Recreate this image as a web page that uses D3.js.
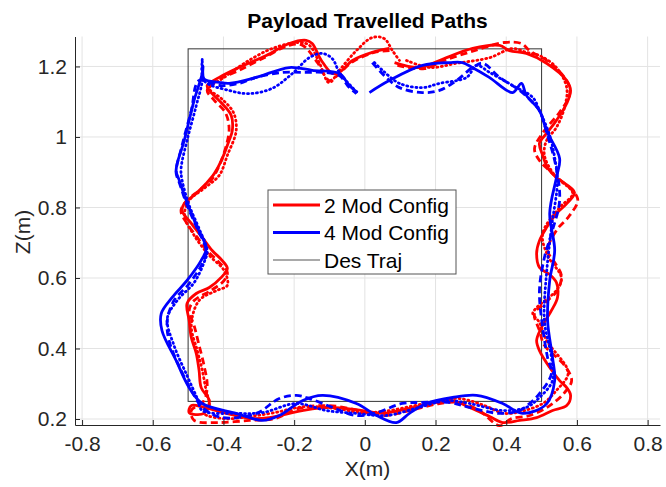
<!DOCTYPE html>
<html>
<head>
<meta charset="utf-8">
<script src="https://cdn.jsdelivr.net/npm/d3@7"></script>
<style>
  body { margin: 0; background: #fff; }
  text { font-family: "Liberation Sans", Arial, Helvetica, sans-serif; }
</style>
</head>
<body>
<div id="chart"></div>
<script>
// desired trajectory (square, metres)
var desX = [-0.5, 0.5];
var desZ = [0.25, 1.25];

// 2 module configuration runs [x, z]
var red2Solid = [
  [0.084,1.211],[0.154,1.197],[0.211,1.217],[0.305,1.251],[0.381,1.260],[0.409,1.245],[0.457,1.237],
  [0.514,1.209],[0.571,1.160],[0.582,1.132],[0.571,1.095],[0.542,1.047],[0.514,1.010],[0.494,0.982],
  [0.503,0.948],[0.517,0.913],[0.542,0.885],[0.593,0.843],[0.571,0.811],[0.542,0.783],[0.514,0.743],
  [0.494,0.706],[0.486,0.670],[0.494,0.630],[0.523,0.610],[0.542,0.587],[0.545,0.545],[0.528,0.508],
  [0.500,0.460],[0.486,0.423],[0.494,0.394],[0.523,0.346],[0.551,0.309],[0.571,0.289],[0.582,0.267],
  [0.571,0.238],[0.531,0.224],[0.486,0.204],[0.438,0.196],[0.390,0.190],[0.353,0.207],[0.296,0.233],
  [0.248,0.252],[0.203,0.247],[0.126,0.230],[0.050,0.216],[-0.007,0.224],[-0.101,0.233],[-0.177,0.224],
  [-0.270,0.204],[-0.319,0.201],[-0.392,0.216],[-0.455,0.233],[-0.491,0.238],[-0.497,0.218],[-0.455,0.216],
  [-0.440,0.252],[-0.463,0.289],[-0.469,0.338],[-0.477,0.386],[-0.491,0.431],[-0.497,0.479],[-0.503,0.528],
  [-0.477,0.556],[-0.440,0.573],[-0.407,0.601],[-0.389,0.627],[-0.404,0.650],[-0.432,0.678],[-0.460,0.715],
  [-0.491,0.755],[-0.517,0.791],[-0.511,0.811],[-0.477,0.840],[-0.449,0.868],[-0.426,0.896],[-0.406,0.933],
  [-0.384,0.990],[-0.375,1.018],[-0.378,1.061],[-0.404,1.095],[-0.440,1.132],[-0.446,1.146],[-0.412,1.169],
  [-0.356,1.197],[-0.279,1.231],[-0.214,1.265],[-0.166,1.274],[-0.149,1.265],[-0.123,1.217],[-0.092,1.180],
  [-0.072,1.183],[-0.035,1.217],[0.021,1.240],[0.069,1.251]
];
var red2Dashed = [
  [0.092,1.203],[0.169,1.194],[0.225,1.217],[0.310,1.245],[0.395,1.268],[0.443,1.265],[0.466,1.245],
  [0.523,1.211],[0.574,1.154],[0.579,1.118],[0.551,1.070],[0.508,1.018],[0.480,0.967],[0.494,0.933],
  [0.528,0.899],[0.602,0.825],[0.579,0.777],[0.542,0.735],[0.517,0.678],[0.537,0.644],[0.556,0.607],
  [0.545,0.565],[0.508,0.528],[0.480,0.499],[0.494,0.451],[0.508,0.409],[0.565,0.352],[0.585,0.309],
  [0.565,0.275],[0.523,0.238],[0.466,0.210],[0.415,0.201],[0.381,0.181],[0.324,0.224],[0.268,0.247],
  [0.211,0.244],[0.126,0.224],[0.055,0.210],[-0.016,0.224],[-0.101,0.238],[-0.186,0.230],[-0.256,0.201],
  [-0.327,0.196],[-0.412,0.190],[-0.483,0.196],[-0.491,0.224],[-0.455,0.252],[-0.446,0.295],[-0.455,0.352],
  [-0.469,0.409],[-0.483,0.465],[-0.497,0.508],[-0.483,0.536],[-0.435,0.565],[-0.398,0.593],[-0.389,0.616],
  [-0.412,0.644],[-0.446,0.678],[-0.474,0.715],[-0.505,0.757],[-0.520,0.791],[-0.503,0.820],[-0.469,0.848],
  [-0.435,0.877],[-0.412,0.919],[-0.392,0.976],[-0.384,1.024],[-0.395,1.070],[-0.426,1.104],[-0.446,1.132],
  [-0.418,1.160],[-0.356,1.189],[-0.285,1.225],[-0.214,1.260],[-0.177,1.260],[-0.134,1.211],[-0.101,1.160],
  [-0.078,1.174],[-0.038,1.211],[0.027,1.240],[0.075,1.245]
];
var red2Dotted = [
  [0.118,1.217],[0.183,1.197],[0.259,1.209],[0.353,1.225],[0.418,1.251],[0.457,1.240],[0.494,1.231],
  [0.542,1.197],[0.571,1.140],[0.565,1.084],[0.542,1.027],[0.514,0.990],[0.508,0.948],[0.537,0.891],
  [0.588,0.840],[0.551,0.800],[0.503,0.726],[0.517,0.664],[0.556,0.601],[0.542,0.565],[0.486,0.516],
  [0.475,0.499],[0.494,0.474],[0.514,0.423],[0.571,0.346],[0.574,0.323],[0.542,0.281],[0.508,0.247],
  [0.452,0.224],[0.395,0.216],[0.339,0.238],[0.268,0.258],[0.211,0.252],[0.140,0.238],[0.069,0.224],
  [-0.001,0.218],[-0.086,0.230],[-0.171,0.235],[-0.256,0.218],[-0.327,0.207],[-0.398,0.201],[-0.455,0.216],
  [-0.440,0.238],[-0.449,0.281],[-0.460,0.338],[-0.474,0.394],[-0.491,0.465],[-0.469,0.536],[-0.418,0.565],
  [-0.389,0.579],[-0.398,0.621],[-0.440,0.664],[-0.483,0.721],[-0.510,0.777],[-0.497,0.820],[-0.455,0.854],
  [-0.412,0.891],[-0.389,0.948],[-0.364,1.018],[-0.372,1.070],[-0.406,1.109],[-0.440,1.138],[-0.398,1.169],
  [-0.341,1.209],[-0.262,1.251],[-0.186,1.268],[-0.157,1.260],[-0.129,1.211],[-0.101,1.154],[-0.072,1.189],
  [-0.024,1.245],[0.021,1.282],[0.055,1.279],[0.078,1.245],[0.098,1.217]
];

// 4 module configuration runs [x, z]
var blue4Solid = [
  [0.013,1.126],[0.069,1.160],[0.163,1.203],[0.240,1.211],[0.276,1.211],[0.304,1.197],[0.352,1.169],
  [0.418,1.126],[0.443,1.152],[0.457,1.118],[0.494,1.075],[0.514,1.018],[0.551,0.939],[0.542,0.885],
  [0.523,0.783],[0.537,0.678],[0.523,0.593],[0.517,0.479],[0.531,0.374],[0.537,0.309],[0.514,0.243],
  [0.446,0.216],[0.390,0.244],[0.316,0.267],[0.248,0.261],[0.174,0.244],[0.126,0.216],[0.089,0.190],
  [0.033,0.210],[-0.024,0.244],[-0.120,0.267],[-0.177,0.252],[-0.242,0.210],[-0.290,0.196],[-0.364,0.216],
  [-0.460,0.244],[-0.497,0.289],[-0.534,0.366],[-0.574,0.451],[-0.576,0.499],[-0.545,0.545],[-0.503,0.593],
  [-0.463,0.650],[-0.449,0.684],[-0.474,0.743],[-0.503,0.814],[-0.525,0.877],[-0.534,0.905],[-0.511,0.990],
  [-0.483,1.104],[-0.460,1.180],[-0.458,1.200],[-0.455,1.165],[-0.412,1.155],[-0.384,1.152],[-0.307,1.169],
  [-0.214,1.197],[-0.149,1.189],[-0.072,1.180],[-0.044,1.146],[-0.021,1.126]
];
var blue4Dashed = [
  [0.021,1.211],[0.055,1.174],[0.098,1.140],[0.163,1.126],[0.211,1.132],[0.259,1.160],[0.305,1.197],
  [0.333,1.209],[0.381,1.169],[0.438,1.132],[0.475,1.098],[0.494,1.075],[0.517,1.004],[0.540,0.919],
  [0.551,0.820],[0.528,0.726],[0.508,0.658],[0.494,0.565],[0.503,0.460],[0.517,0.374],[0.528,0.329],
  [0.494,0.272],[0.466,0.244],[0.438,0.224],[0.381,0.216],[0.296,0.233],[0.239,0.247],[0.163,0.247],
  [0.106,0.244],[0.033,0.218],[-0.024,0.210],[-0.092,0.233],[-0.157,0.258],[-0.194,0.267],[-0.242,0.258],
  [-0.307,0.216],[-0.404,0.204],[-0.460,0.233],[-0.483,0.267],[-0.520,0.338],[-0.554,0.423],[-0.559,0.479],
  [-0.540,0.536],[-0.497,0.584],[-0.460,0.641],[-0.449,0.678],[-0.474,0.740],[-0.503,0.806],[-0.525,0.871],
  [-0.534,0.899],[-0.517,0.976],[-0.491,1.075],[-0.469,1.160],[-0.412,1.146],[-0.356,1.152],[-0.307,1.169],
  [-0.234,1.183],[-0.171,1.183],[-0.115,1.183],[-0.072,1.174],[-0.044,1.140],[-0.024,1.123]
];
var blue4Dotted = [
  [0.027,1.211],[0.050,1.189],[0.098,1.152],[0.163,1.140],[0.211,1.152],[0.288,1.169],[0.316,1.203],
  [0.353,1.183],[0.418,1.146],[0.475,1.112],[0.494,1.075],[0.523,1.004],[0.537,0.942],[0.545,0.877],
  [0.528,0.743],[0.514,0.613],[0.508,0.479],[0.528,0.374],[0.531,0.309],[0.494,0.261],[0.457,0.233],
  [0.390,0.224],[0.296,0.244],[0.231,0.252],[0.154,0.233],[0.061,0.210],[-0.024,0.216],[-0.109,0.224],
  [-0.194,0.244],[-0.290,0.218],[-0.364,0.216],[-0.460,0.224],[-0.474,0.258],[-0.503,0.323],[-0.540,0.409],
  [-0.559,0.485],[-0.531,0.536],[-0.483,0.587],[-0.455,0.644],[-0.446,0.678],[-0.469,0.740],[-0.497,0.806],
  [-0.517,0.877],[-0.520,0.910],[-0.503,0.990],[-0.477,1.089],[-0.460,1.160],[-0.460,1.222],[-0.455,1.160],
  [-0.384,1.132],[-0.327,1.123],[-0.262,1.138],[-0.205,1.180],[-0.157,1.225],[-0.120,1.237],[-0.092,1.222],
  [-0.072,1.183],[-0.035,1.140],[-0.021,1.126]
];

var xTicks = [-0.8, -0.6, -0.4, -0.2, 0, 0.2, 0.4, 0.6, 0.8];
var zTicks = [0.2, 0.4, 0.6, 0.8, 1, 1.2];
var legendLabels = ["2 Mod Config", "4 Mod Config", "Des Traj"];

var width = 666, height = 487;
var margin = {top: 36.5, right: 6, bottom: 62, left: 75};

var svg = d3.select("#chart").append("svg")
    .attr("width", width)
    .attr("height", height);

var x = d3.scaleLinear().domain([-0.82, 0.835]).range([margin.left, width - margin.right]);
var y = d3.scaleLinear().domain([0.183, 1.285]).range([height - margin.bottom, margin.top]);

// grid
var grid = svg.append("g").attr("class", "grid");
grid.selectAll("line.gx")
    .data(xTicks)
    .join("line")
    .attr("x1", d => x(d)).attr("x2", d => x(d))
    .attr("y1", y.range()[0]).attr("y2", y.range()[1])
    .attr("stroke", "#e3e3e3").attr("stroke-width", 1);
grid.selectAll("line.gy")
    .data(zTicks)
    .join("line")
    .attr("class", "gy")
    .attr("x1", x.range()[0]).attr("x2", x.range()[1])
    .attr("y1", d => y(d)).attr("y2", d => y(d))
    .attr("stroke", "#e3e3e3").attr("stroke-width", 1);

// desired trajectory
svg.append("rect")
    .attr("x", x(desX[0]))
    .attr("y", y(desZ[1]))
    .attr("width", x(desX[1]) - x(desX[0]))
    .attr("height", y(desZ[0]) - y(desZ[1]))
    .attr("fill", "none")
    .attr("stroke", "#333")
    .attr("stroke-width", 1);

var line = d3.line()
    .x(d => x(d[0]))
    .y(d => y(d[1]))
    .curve(d3.curveCatmullRom.alpha(0.5));

var runs = [
    {data: red2Solid, color: "#ff0000", dash: null},
    {data: red2Dashed, color: "#ff0000", dash: "7,4"},
    {data: red2Dotted, color: "#ff0000", dash: "1,3.5"},
    {data: blue4Solid, color: "#0000ff", dash: null},
    {data: blue4Dashed, color: "#0000ff", dash: "7,4"},
    {data: blue4Dotted, color: "#0000ff", dash: "1,3.5"}
];

svg.append("g")
    .selectAll("path")
    .data(runs)
    .join("path")
    .attr("d", d => line(d.data))
    .attr("fill", "none")
    .attr("stroke", d => d.color)
    .attr("stroke-width", 2.8)
    .attr("stroke-dasharray", d => d.dash)
    .attr("stroke-linecap", d => d.dash === "1,3.5" ? "round" : "butt")
    .attr("stroke-linejoin", "round");

// axes (MATLAB style, ticks inside)
var fmt = d => String(d);
var xAxis = svg.append("g")
    .attr("transform", "translate(0," + y.range()[0] + ")")
    .call(d3.axisBottom(x).tickValues(xTicks).tickFormat(fmt).tickSizeInner(-5).tickSizeOuter(0).tickPadding(11));
var yAxis = svg.append("g")
    .attr("transform", "translate(" + x.range()[0] + ",0)")
    .call(d3.axisLeft(y).tickValues(zTicks).tickFormat(fmt).tickSizeInner(-5).tickSizeOuter(0).tickPadding(8));

[xAxis, yAxis].forEach(function(a) {
    a.select(".domain").attr("stroke", "#262626");
    a.selectAll(".tick line").attr("stroke", "#262626");
    a.selectAll(".tick text")
        .attr("fill", "#262626")
        .style("font-size", "21px")
        .style("font-family", "'Liberation Sans', Arial, sans-serif");
});

// labels
svg.append("text")
    .attr("x", (x.range()[0] + x.range()[1]) / 2).attr("y", 28)
    .attr("text-anchor", "middle")
    .style("font-size", "21px").style("font-weight", "bold")
    .attr("fill", "#000")
    .text("Payload Travelled Paths");

svg.append("text")
    .attr("x", (x.range()[0] + x.range()[1]) / 2).attr("y", 468)
    .attr("text-anchor", "middle")
    .attr("dominant-baseline", "central")
    .style("font-size", "21px")
    .attr("fill", "#262626")
    .text("X(m)");

svg.append("text")
    .attr("transform", "translate(22,232) rotate(-90)")
    .attr("text-anchor", "middle")
    .attr("dominant-baseline", "central")
    .style("font-size", "21px")
    .attr("fill", "#262626")
    .text("Z(m)");

// legend
var legend = svg.append("g").attr("transform", "translate(268,190)");
legend.append("rect")
    .attr("width", 188).attr("height", 84)
    .attr("fill", "#fff")
    .attr("stroke", "#555").attr("stroke-width", 1);
var legendColors = ["#ff0000", "#0000ff", "#8c8c8c"];
var legendWidths = [2.8, 2.8, 1.5];
var item = legend.selectAll("g.item")
    .data(legendLabels)
    .join("g")
    .attr("class", "item")
    .attr("transform", (d, i) => "translate(0," + (15 + i * 27.5) + ")");
item.append("line")
    .attr("x1", 5).attr("x2", 52)
    .attr("stroke", (d, i) => legendColors[i])
    .attr("stroke-width", (d, i) => legendWidths[i]);
item.append("text")
    .attr("x", 56)
    .attr("dominant-baseline", "central")
    .style("font-size", "21px")
    .attr("fill", "#000")
    .text(d => d);
</script>
</body>
</html>
